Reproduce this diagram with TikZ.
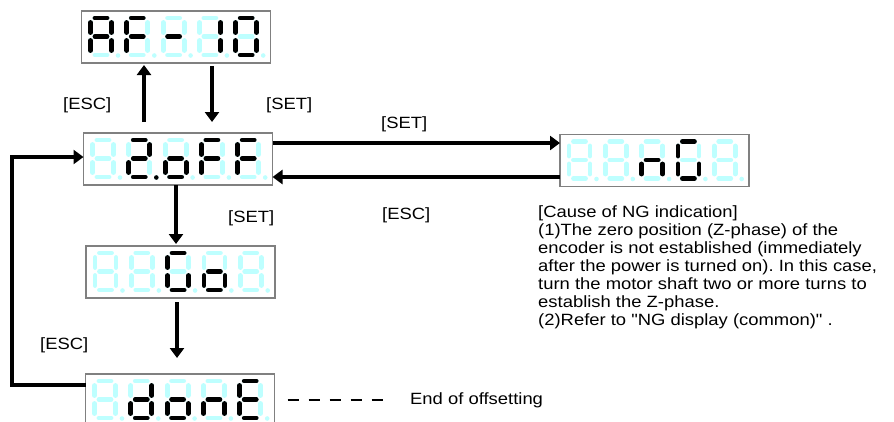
\documentclass[tikz,border=0pt]{standalone}
\usepackage{fontspec}
\setmainfont{Liberation Sans}[FakeStretch=1.13, Ligatures=TeXOff]
\usetikzlibrary{arrows.meta}
\definecolor{segcyan}{RGB}{190,255,255}
\definecolor{boxgray}{RGB}{128,128,128}
\frenchspacing

\newcommand\drawseg[2]{%
  \if#2a\draw[#1] (7,2.5)--(19,2.5);\fi
  \if#2b\draw[#1] (23.5,7)--(23.5,17);\fi
  \if#2c\draw[#1] (23.5,25)--(23.5,35);\fi
  \if#2d\draw[#1] (7,39.5)--(19,39.5);\fi
  \if#2e\draw[#1] (2.5,25)--(2.5,35);\fi
  \if#2f\draw[#1] (2.5,7)--(2.5,17);\fi
  \if#2g\draw[#1] (7,21)--(19,21);\fi
  \if#2p\path[#1,draw=none] (30,40) circle (2.3pt);\fi
}
\newcommand\sevenseg[3]{%
  \begin{scope}[shift={(#1,#2)}]
    \foreach \s in {a,b,c,d,e,f,g,p}{\drawseg{segoff}{\s}}
    \foreach \s in {#3}{\drawseg{segon}{\s}}
  \end{scope}}
\newcommand\fivedigits[6]{%
  \begin{scope}[shift={(#1.north west)}]
    \sevenseg{6.5}{4.5}{#2}
    \sevenseg{42.8}{4.5}{#3}
    \sevenseg{79.1}{4.5}{#4}
    \sevenseg{115.4}{4.5}{#5}
    \sevenseg{151.7}{4.5}{#6}
  \end{scope}}

\tikzset{
  segoff/.style={draw=segcyan, fill=segcyan, line width=4.8pt, line cap=round},
  segon/.style={draw=black, fill=black, line width=4.8pt, line cap=round},
  dbox/.style={draw=boxgray, line width=1.3pt, fill=white, minimum width=189pt,
    minimum height=52pt, inner sep=0pt, outer sep=0pt},
  lbl/.style={font=\fontsize{16.3}{18}\selectfont, anchor=base west, inner sep=0pt},
  arr/.style={line width=4.5pt, -{Triangle[width=14pt,length=10pt]}},
  dashline/.style={line width=1.3pt, dash pattern=on 11.5pt off 9.5pt}
}

\begin{document}
\begin{tikzpicture}[x=1pt,y=-1pt]
\useasboundingbox (0,0) rectangle (894,421);

% display boxes
\node[dbox] (af)   at (176,37) {};
\node[dbox] (zoff) at (178,159) {};
\node[dbox] (ng)   at (654.5,160.5) {};
\node[dbox] (go)   at (180.5,272) {};
\node[dbox] (done) at (180,400) {};

\fivedigits{af}{a,b,c,e,f,g}{a,e,f,g}{g}{b,c}{a,b,c,d,e,f}
\fivedigits{zoff}{x}{a,b,g,e,d,p}{g,c,d,e}{a,e,f,g}{a,e,f,g}
\fivedigits{ng}{x}{x}{e,g,c}{a,f,e,d,c}{x}
\fivedigits{go}{x}{x}{a,f,e,d,c}{g,c,d,e}{x}
\fivedigits{done}{x}{b,c,d,e,g}{g,c,d,e}{e,g,c}{a,f,g,e,d}

% arrows between AF and z.oFF
\coordinate (escup) at (144,122);
\draw[arr, shorten >=2pt] (escup) -- (escup |- af.south);
\coordinate (setdown) at (212,66);
\draw[arr, shorten >=11pt] (setdown) -- (setdown |- zoff.north);
\node[lbl] (lesc1) at (63,109) {[ESC]};
\node[lbl] (lset1) at (266,109) {[SET]};

% z.oFF <-> nG
\draw[arr] (zoff.east |- 0,143) -- (ng.west |- 0,143);
\draw[arr] (ng.west |- 0,177) -- (zoff.east |- 0,177);
\node[lbl] (lset2) at (381,128) {[SET]};
\node[lbl] (lesc2) at (382,219) {[ESC]};

% z.oFF -> Go -> donE
\draw[arr, shorten >=2pt] (zoff.south -| 176,0) -- (go.north -| 176,0);
\node[lbl] (lset3) at (228,222) {[SET]};
\draw[arr, shorten <=4pt, shorten >=16pt] (go.south -| 177,0) -- (done.north -| 177,0);
\node[lbl] (lesc3) at (40,349) {[ESC]};

% return loop
\draw[arr] (done.west |- 0,385) -| (12,157) -- (zoff.west |- 0,157);

% end of offsetting
\node[lbl, anchor=west] (endtxt) at (410,400) {End of offsetting};
\draw[dashline] ([xshift=13pt]done.east) -- ([xshift=-20pt]endtxt.west);

% cause text
\node[lbl] (c0) at (538,217) {[Cause of NG indication]};
\node[lbl] (c1) at (538,235) {(1)The zero position (Z-phase) of the};
\node[lbl] (c2) at (538,253) {encoder is not established (immediately};
\node[lbl] (c3) at (538,271) {after the power is turned on). In this case,};
\node[lbl] (c4) at (538,289) {turn the motor shaft two or more turns to};
\node[lbl] (c5) at (538,307) {establish the Z-phase.};
\node[lbl] (c6) at (538,325) {(2)Refer to "NG display (common)" .};
\end{tikzpicture}
\end{document}
